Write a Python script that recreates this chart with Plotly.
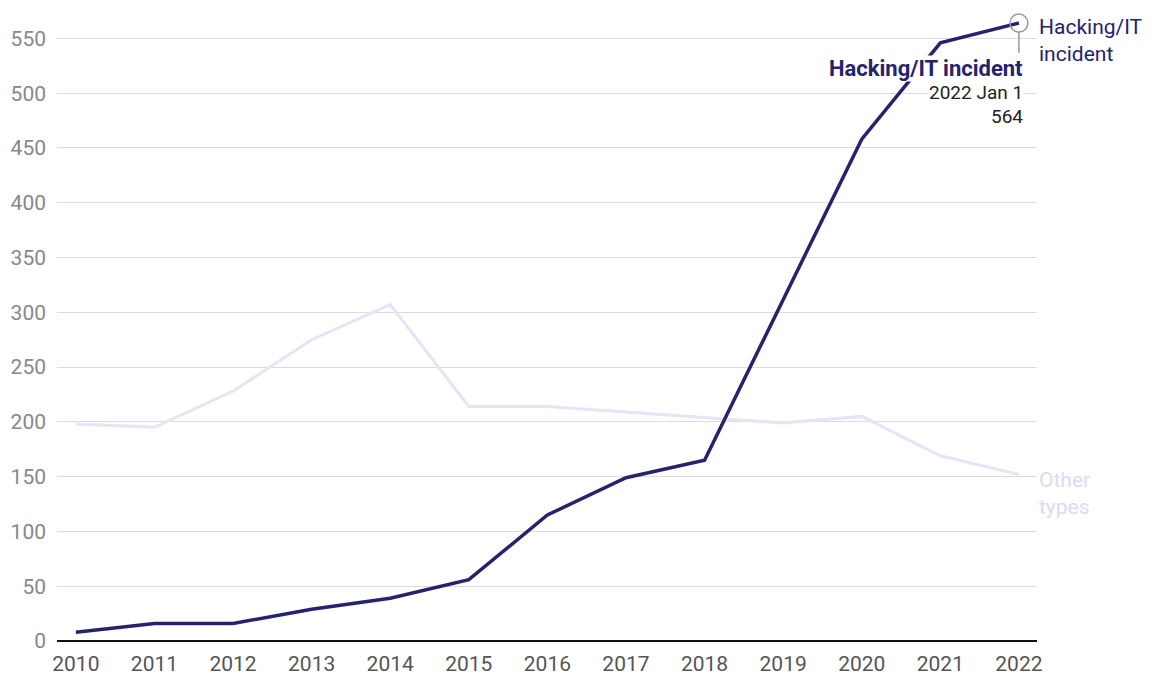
import plotly.graph_objects as go

years = list(range(2010, 2023))
hacking = [8, 16, 16, 29, 39, 56, 115, 149, 165, 312, 458, 546, 564]
other = [198, 195, 228, 275, 307, 214, 214, 209, 204, 199, 205, 169, 152]
y_ticks = list(range(0, 551, 50))

NAVY = "#25236e"
LAVENDER = "#e6e4f6"

fig = go.Figure()

fig.add_trace(go.Scatter(x=years, y=other, mode="lines",
                         line=dict(color=LAVENDER, width=3), hoverinfo="skip"))
fig.add_trace(go.Scatter(x=years, y=hacking, mode="lines",
                         line=dict(color=NAVY, width=3.5), hoverinfo="skip"))

# highlight ring on last point
fig.add_trace(go.Scatter(x=[years[-1]], y=[hacking[-1]], mode="markers",
                         marker=dict(size=18, color="rgba(0,0,0,0)",
                                     line=dict(color="#9a9a9a", width=1.5)),
                         hoverinfo="skip"))
fig.add_shape(type="line", x0=years[-1], x1=years[-1],
              y0=hacking[-1] - 8, y1=hacking[-1] - 27,
              line=dict(color="#9a9a9a", width=1.5))

# tooltip-style label, one line per annotation so each gets its own white backing
tip_lines = [
    ("<b>Hacking/IT incident</b>", NAVY, 22, -45),
    ("2022 Jan 1", "#222", 19, -69),
    (str(hacking[-1]), "#222", 19, -93),
]
for txt, col, size, dy in tip_lines:
    fig.add_annotation(x=years[-1], y=hacking[-1], xref="x", yref="y",
                       text=txt, showarrow=False, xanchor="right",
                       yanchor="middle", xshift=5, yshift=dy,
                       bgcolor="white", borderpad=0,
                       font=dict(family="Roboto", size=size, color=col))

# end labels
fig.add_annotation(x=1.0, xref="paper", y=hacking[-1], yref="y",
                   text="Hacking/IT<br>incident", showarrow=False,
                   xanchor="left", yanchor="middle", align="left", yshift=-17,
                   font=dict(family="Roboto", size=21, color=NAVY))
fig.add_annotation(x=1.0, xref="paper", y=other[-1], yref="y",
                   text="Other<br>types", showarrow=False,
                   xanchor="left", yanchor="middle", align="left", yshift=-19,
                   font=dict(family="Roboto", size=21, color="#dcdaf0"))

# page body adds an 8px offset, so the figure is sized to fit inside it
fig.update_layout(
    width=1148, height=685,
    margin=dict(l=49, r=119, t=3, b=52),
    paper_bgcolor="white", plot_bgcolor="white",
    showlegend=False,
    font=dict(family="Roboto"),
    xaxis=dict(range=[2009.76, 2022.23], tickvals=years,
               ticktext=[str(y) for y in years], automargin=False,
               showgrid=False, zeroline=False, showline=False,
               tickfont=dict(size=21, color="#555"), ticks="",
               ticklabelstandoff=8),
    yaxis=dict(range=[0, 575], tickvals=y_ticks, automargin=False,
               showgrid=True, gridcolor="#dcdcdc", gridwidth=1,
               zeroline=True, zerolinecolor="#111", zerolinewidth=2,
               tickfont=dict(size=21, color="#888"), ticklabelstandoff=10),
)

fig.write_html("out.html")
